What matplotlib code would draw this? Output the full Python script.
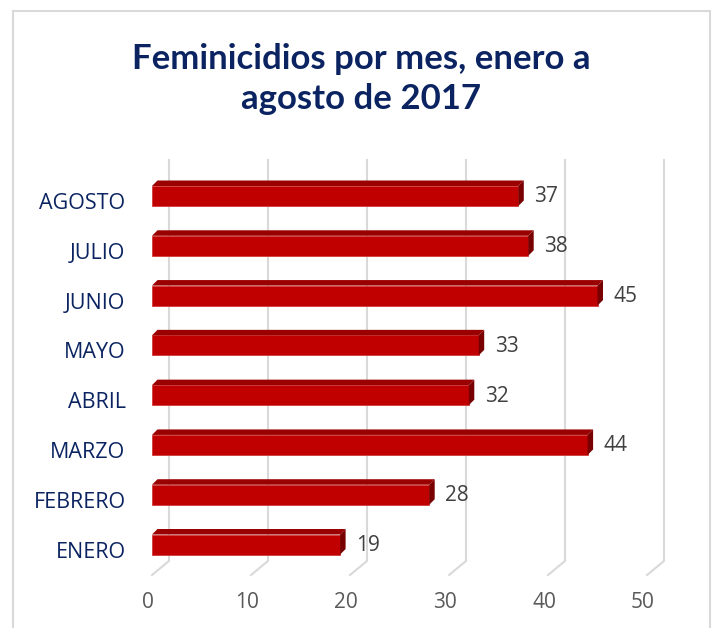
import matplotlib.pyplot as plt
from matplotlib.patches import Polygon, Rectangle
from matplotlib.transforms import ScaledTranslation

months = ["ENERO", "FEBRERO", "MARZO", "ABRIL", "MAYO", "JUNIO", "JULIO", "AGOSTO"]
values = [19, 28, 44, 32, 33, 45, 38, 37]
ticks = [0, 10, 20, 30, 40, 50]
title = "Feminicidios por mes, enero a\nagosto de 2017"

W, H, DPI = 717, 628, 100
navy = "#0B2461"
front_c, top_c, side_c = "#C00000", "#9A0000", "#780000"
grid_c = "#D9D9D9"

fig = plt.figure(figsize=(W / DPI, H / DPI), dpi=DPI)
fig.patch.set_facecolor("white")

# chart border
fig.add_artist(Rectangle((13 / W, 1 - 640 / H), 697 / W, 629 / H,
                         transform=fig.transFigure, fill=False,
                         edgecolor=grid_c, linewidth=1.5))

# axes: x 0..50 -> px 152..647, rows 0..7 -> px 544..196
x0, x1 = 152, 647
ytop, ybot = 171.1, 569.4
ax = fig.add_axes([x0 / W, 1 - ybot / H, (x1 - x0) / W, (ybot - ytop) / H])
ax.set_xlim(0, 50)
ax.set_ylim(-0.5, len(months) - 0.5)
for s in ax.spines.values():
    s.set_visible(False)

pxu = (x1 - x0) / 50.0           # px per x unit
pyu = (ybot - ytop) / len(months)  # px per row

# back wall gridlines and floor
gdx, gdy = 17 / pxu, 14 / pyu
g_bot = -0.5 + (ybot - 561) / pyu
g_top = -0.5 + (ybot - 160) / pyu
for t in ticks:
    ax.plot([t, t + gdx, t + gdx], [g_bot - gdy, g_bot, g_top],
            color=grid_c, lw=1.5, clip_on=False, zorder=1,
            solid_joinstyle="miter")

# 3d-looking bars
h = 20 / pyu
ddx, ddy = 5.5 / pxu, 5.5 / pyu
for i, v in enumerate(values):
    y0 = i - h / 2
    ax.barh(i, v, height=h, color=front_c, edgecolor="#D23A3A",
            linewidth=0.6, zorder=3)
    ax.add_patch(Polygon([(0, y0 + h), (ddx, y0 + h + ddy),
                          (v + ddx, y0 + h + ddy), (v, y0 + h)],
                         closed=True, facecolor=top_c, edgecolor="none",
                         zorder=3, clip_on=False))
    ax.add_patch(Polygon([(v, y0), (v, y0 + h), (v + ddx, y0 + h + ddy),
                          (v + ddx, y0 + ddy)],
                         closed=True, facecolor=side_c, edgecolor="none",
                         zorder=3, clip_on=False))
    ax.text(v + 16 / pxu, i - 1 / pyu, str(v), ha="left", va="center",
            fontsize=15, color="#404040", family="Open Sans", zorder=4)

# category labels
ax.set_yticks(range(len(months)))
ax.set_yticklabels(months, fontsize=15.5, color=navy, family="Open Sans")
ax.tick_params(axis="y", length=0, pad=19)
for lab in ax.get_yticklabels():
    lab.set_transform(lab.get_transform() +
                      ScaledTranslation(0, -5 / DPI, fig.dpi_scale_trans))

# value ticks
ax.set_xticks(ticks)
ax.set_xticklabels([str(t) for t in ticks], fontsize=15, color="#595959",
                   family="Open Sans")
ax.tick_params(axis="x", length=0, pad=16)
for lab in ax.get_xticklabels():
    lab.set_transform(lab.get_transform() +
                      ScaledTranslation(-4 / DPI, 0, fig.dpi_scale_trans))

fig.text(361 / W, 1 - 79 / H, title, ha="center", va="center",
         fontsize=25, fontweight="bold", color=navy, family="Lato",
         linespacing=1.27)

fig.savefig("out.png", dpi=DPI, facecolor="white")
